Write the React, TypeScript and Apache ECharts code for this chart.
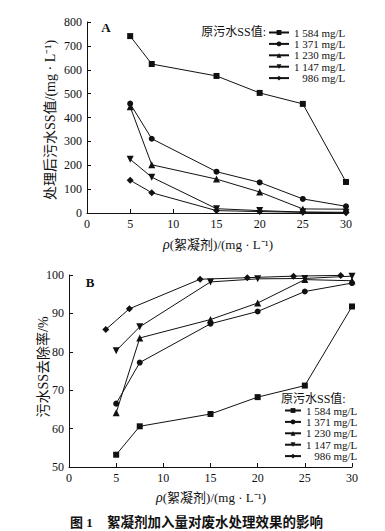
import React, { useEffect, useRef } from "react";
import * as echarts from "echarts";

const seriesNames = ["1 584 mg/L", "1 371 mg/L", "1 230 mg/L", "1 147 mg/L", "\u2007 986 mg/L"];
const doseX = [5, 7.5, 15, 20, 25, 30];
const doseX986B = [3.9, 6.4, 13.9, 18.9, 23.8, 28.8];

const ssA1584 = [741, 624, 574, 503, 457, 130];
const ssA1371 = [458, 311, 173, 128, 59, 28];
const ssA1230 = [445, 202, 142, 88, 17, 16];
const ssA1147 = [225, 150, 18, 10, 4, 3];
const ssA986 = [137, 85, 10, 6, 3, 1];

const remB1584 = [53.2, 60.6, 63.8, 68.2, 71.2, 91.8];
const remB1371 = [66.5, 77.2, 87.3, 90.5, 95.7, 97.9];
const remB1230 = [64.1, 83.6, 88.4, 92.7, 98.8, 98.5];
const remB1147 = [80.3, 86.5, 98.2, 99.0, 99.1, 99.7];
const remB986 = [85.8, 91.2, 98.9, 99.3, 99.7, 99.9];

const xTicks = [0, 5, 10, 15, 20, 25, 30];

const symbols = ["rect", "circle", "triangle", "path://M0,0L10,0L5,9Z", "diamond"];
const symbolSizes = [6, 6, 7, 7, 7];

const FONT = "'Liberation Serif', 'Noto Sans CJK SC', serif";
const CJK = "'Liberation Serif', 'Noto Sans CJK SC', serif";

export default function App() {
  const ref = useRef<HTMLDivElement>(null);
  useEffect(() => {
    if (!ref.current) return;
    const chart = echarts.init(ref.current, undefined, { renderer: "svg" });
    const pair = (xs: number[], ys: number[]) => xs.map((x, i) => [x, ys[i]]);
    const dataA = [ssA1584, ssA1371, ssA1230, ssA1147, ssA986];
    const dataB = [remB1584, remB1371, remB1230, remB1147, remB986];
    const mkSeries = (ys: number[], i: number, idx: number, xs: number[]) => ({
      type: "line",
      name: seriesNames[i],
      xAxisIndex: idx,
      yAxisIndex: idx,
      data: pair(xs, ys),
      symbol: symbols[i],
      symbolSize: symbolSizes[i],
      showAllSymbol: true,
      lineStyle: { color: "#111", width: 1 },
      itemStyle: { color: "#111" },
      emphasis: { disabled: true },
    });
    const series: any[] = [];
    dataA.forEach((ys, i) => series.push(mkSeries(ys, i, 0, doseX)));
    dataB.forEach((ys, i) => series.push(mkSeries(ys, i, 1, i === 4 ? doseX986B : doseX)));

    const axisCommon = {
      axisLine: { show: true, lineStyle: { color: "#111", width: 1 } },
      axisTick: { show: true, inside: true, length: 4, lineStyle: { color: "#111" } },
      splitLine: { show: false },
      axisLabel: { color: "#111", fontSize: 12, fontFamily: FONT, margin: 5 },
    };
    const xAxisCommon = {
      ...axisCommon,
      type: "value",
      min: xTicks[0],
      max: xTicks[xTicks.length - 1],
      interval: 5,
      axisLabel: { ...axisCommon.axisLabel, margin: 5 },
    };

    const legendCommon = {
      orient: "vertical",
      data: seriesNames,
      itemWidth: 20,
      itemHeight: 6,
      itemGap: 0.4,
      padding: 0,
      selectedMode: false,
      textStyle: { color: "#111", fontSize: 11, fontFamily: FONT, lineHeight: 11 },
    };

    const rhoRich = {
      i: { fontStyle: "italic", fontSize: 14, fontFamily: FONT, fill: "#111" },
      n: { fontSize: 13, fontFamily: CJK, fill: "#111" },
    };

    chart.setOption({
      animation: false,
      backgroundColor: "#fff",
      grid: [
        { left: 87, top: 22, width: 259, height: 191 },
        { left: 69, top: 275, width: 283, height: 192 },
      ],
      xAxis: [
        { ...xAxisCommon, gridIndex: 0 },
        { ...xAxisCommon, gridIndex: 1 },
      ],
      yAxis: [
        { ...axisCommon, type: "value", gridIndex: 0, min: 0, max: 800, interval: 100 },
        { ...axisCommon, type: "value", gridIndex: 1, min: 50, max: 100, interval: 10 },
      ],
      legend: [
        { ...legendCommon, left: 268, top: 27 },
        { ...legendCommon, left: 284, top: 405, itemWidth: 16 },
      ],
      series,
      graphic: [
        { type: "text", x: 106, y: 27, style: { text: "A", fontSize: 13, fontWeight: "bold", fontFamily: FONT, fill: "#111", align: "center", verticalAlign: "middle" } },
        { type: "text", x: 90, y: 282, style: { text: "B", fontSize: 13, fontWeight: "bold", fontFamily: FONT, fill: "#111", align: "center", verticalAlign: "middle" } },
        { type: "text", x: 266, y: 32, style: { text: "原污水SS值:", fontSize: 12, fontFamily: CJK, fill: "#111", align: "right", verticalAlign: "middle" } },
        { type: "text", x: 281, y: 399, style: { text: "原污水SS值:", fontSize: 12, fontFamily: CJK, fill: "#111", align: "left", verticalAlign: "middle" } },
        { type: "text", x: 50, y: 120, rotation: Math.PI / 2, style: { text: "处理后污水SS值/(mg · L⁻¹)", fontSize: 14, fontFamily: CJK, fill: "#111", align: "center", verticalAlign: "middle" } },
        { type: "text", x: 43, y: 367, rotation: Math.PI / 2, style: { text: "污水SS去除率/%", fontSize: 14, fontFamily: CJK, fill: "#111", align: "center", verticalAlign: "middle" } },
        { type: "text", x: 218, y: 244, style: { text: "{i|ρ}{n|(絮凝剂)/(mg · L⁻¹)}", rich: rhoRich, align: "center", verticalAlign: "middle" } },
        { type: "text", x: 211, y: 497, style: { text: "{i|ρ}{n|(絮凝剂)/(mg · L⁻¹)}", rich: rhoRich, align: "center", verticalAlign: "middle" } },
        { type: "text", x: 70, y: 522, style: { text: "图 1", fontSize: 13, fontWeight: "bold", fontFamily: CJK, fill: "#111", align: "left", verticalAlign: "middle" } },
        { type: "text", x: 107, y: 522, style: { text: "絮凝剂加入量对废水处理效果的影响", fontSize: 13.5, fontWeight: "bold", fontFamily: CJK, fill: "#111", align: "left", verticalAlign: "middle" } },
      ],
    });
    return () => chart.dispose();
  }, []);
  return (
    <div
      ref={ref}
      style={{ position: "absolute", left: 0, top: 0, width: 385, height: 531, background: "#fff" }}
    />
  );
}
